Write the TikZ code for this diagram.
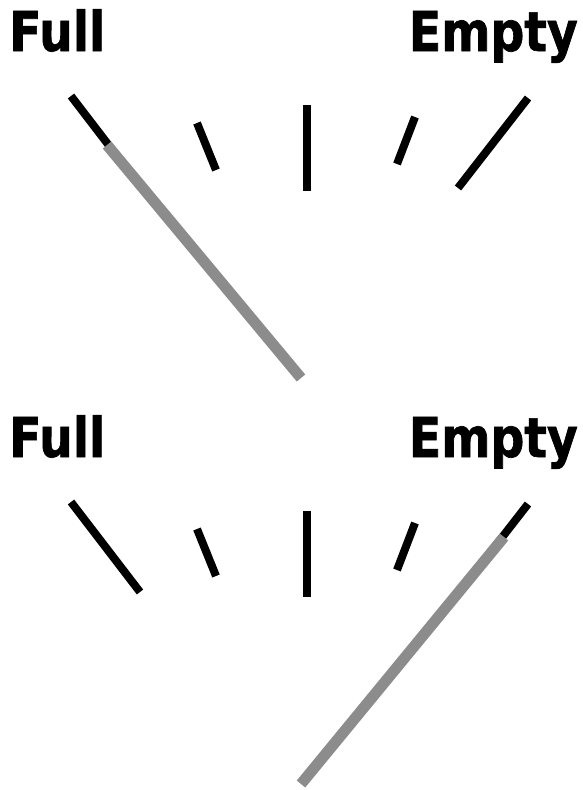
\documentclass[tikz,border=0pt]{standalone}
\usepackage{fontspec}
\newfontfamily\gaugefont{DejaVu Sans}[FakeStretch=0.86,FakeBold=1.2]

\begin{document}
\begin{tikzpicture}[x=1pt,y=-1pt,
    tick/.style={line width=8pt},
    needle/.style={line width=11pt,black!45},
    gaugelabel/.style={inner sep=0pt,font=\gaugefont\bfseries\fontsize{55}{60}\selectfont}]
    \useasboundingbox (0,0) rectangle (582,790);

    % Twee meters: offset / punt van de naald / naam
    \foreach \oy/\nx/\ny/\n in {0/107/145/a, 406/504/131/b} {
    \begin{scope}[shift={(0,\oy)}]
        % Labels
        \node[gaugelabel,anchor=base west] (full\n) at (9,51) {Full};
        \node[gaugelabel,anchor=base east] (empty\n) at (578,51) {Empty};

        % Streepjes
        \draw[tick] (71,96) -- (140,186);
        \draw[tick] (197,123) -- (216,170);
        \draw[tick] (307,105) -- (307,191);
        \draw[tick] (415,117) -- (397,164);
        \draw[tick] (528,98) -- (458,188);

        % Naald
        \coordinate (pivot\n) at (301,378);
        \coordinate (tip\n) at (\nx,\ny);
        \draw[needle] (pivot\n) -- (tip\n);
    \end{scope}
    }
\end{tikzpicture}
\end{document}
